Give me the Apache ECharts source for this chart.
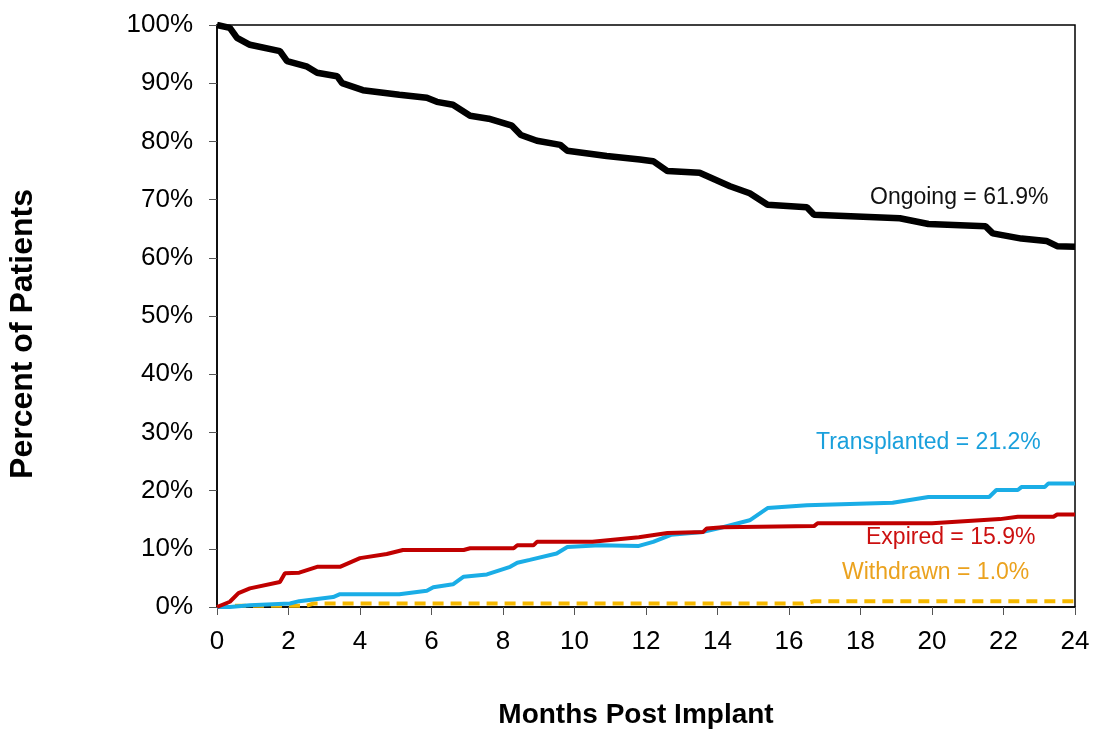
<!DOCTYPE html>
<html><head><meta charset="utf-8">
<script src="https://cdn.jsdelivr.net/npm/echarts@6/dist/echarts.min.js"></script>
<style>html,body{margin:0;padding:0;background:#fff}#c{width:1093px;height:729px}</style>
</head><body><div id="c"></div>
<script>
const xTicks = [0,2,4,6,8,10,12,14,16,18,20,22,24];
const ongoing = [[0,100],[0.36,99.5],[0.56,97.8],[0.92,96.6],[1.76,95.5],[1.96,93.8],[2.5,92.9],[2.8,91.8],[3.36,91.2],[3.5,90.0],[4.08,88.8],[5.1,88.0],[5.87,87.5],[6.15,86.8],[6.6,86.3],[7.08,84.4],[7.6,83.9],[8.25,82.7],[8.5,81.1],[8.95,80.1],[9.6,79.4],[9.8,78.4],[10.9,77.5],[11.83,76.9],[12.2,76.6],[12.6,74.9],[13.5,74.6],[14.35,72.3],[14.9,71.1],[15.4,69.1],[16.5,68.7],[16.7,67.4],[19.1,66.8],[19.9,65.8],[21.5,65.4],[21.7,64.2],[22.5,63.3],[23.2,62.9],[23.5,62.0],[24,61.9]];
const transplanted = [[0,0],[0.36,0],[0.92,0.3],[0.95,0.6],[2.04,0.6],[2.3,1.0],[3.25,1.7],[3.44,2.2],[5.1,2.2],[5.87,2.8],[6.05,3.4],[6.6,3.9],[6.9,5.2],[7.55,5.6],[8.2,6.9],[8.4,7.6],[8.75,8.1],[9.5,9.2],[9.8,10.3],[10.7,10.6],[11.8,10.5],[12.2,11.2],[12.7,12.4],[13.6,12.9],[14.15,13.7],[14.9,14.9],[15.4,17.0],[16.5,17.5],[18.9,17.9],[19.9,18.9],[21.6,18.9],[21.8,20.1],[22.4,20.1],[22.5,20.6],[23.15,20.6],[23.25,21.2],[24,21.2]];
const expired = [[0,0],[0.36,0.9],[0.6,2.4],[0.92,3.2],[1.76,4.3],[1.9,5.8],[2.3,5.9],[2.8,6.9],[3.44,6.9],[4.0,8.4],[4.75,9.1],[5.2,9.8],[6.9,9.8],[7.08,10.1],[8.3,10.1],[8.4,10.6],[8.85,10.6],[8.95,11.2],[10.5,11.2],[11.8,12.0],[12.6,12.7],[13.6,12.9],[13.7,13.5],[14.15,13.7],[16.7,13.9],[16.8,14.4],[20.0,14.4],[21.9,15.1],[22.4,15.5],[23.4,15.5],[23.5,15.9],[24,15.9]];
const withdrawn = [[0,0],[0.5,0.2],[2.5,0.2],[2.7,0.6],[16.4,0.6],[16.7,1.0],[24,1.0]];
const labels = {ongoing:'Ongoing = 61.9%', transplanted:'Transplanted = 21.2%', expired:'Expired = 15.9%', withdrawn:'Withdrawn = 1.0%'};

const chart = echarts.init(document.getElementById('c'));
const F = 'Liberation Sans, Arial, sans-serif';
chart.setOption({
  animation:false,
  grid:{left:217,right:18,top:25,bottom:122,containLabel:false,outerBoundsMode:'none',show:true,borderColor:'#000',borderWidth:1.5,backgroundColor:'transparent'},
  xAxis:{type:'value',min:0,max:24,interval:2,
    name:'Months Post Implant',nameLocation:'middle',nameGap:94,
    nameTextStyle:{fontFamily:F,fontWeight:'bold',fontSize:28,color:'#000',padding:[0,20,0,0]},
    axisLine:{lineStyle:{color:'#000',width:1.5}},
    axisTick:{show:true,length:8,lineStyle:{color:'#555'}},
    axisLabel:{fontFamily:F,fontSize:26,color:'#000',margin:22},
    splitLine:{show:false}},
  yAxis:{type:'value',min:0,max:100,interval:10,
    name:'Percent of Patients',nameLocation:'middle',nameGap:178,nameRotate:90,
    nameTextStyle:{fontFamily:F,fontWeight:'bold',fontSize:32,color:'#000',padding:[0,36,0,0]},
    axisLine:{show:true,lineStyle:{color:'#000',width:1.5}},
    axisTick:{show:true,length:8,lineStyle:{color:'#555'}},
    axisLabel:{fontFamily:F,fontSize:26,color:'#000',margin:24,formatter:'{value}%'},
    splitLine:{show:false}},
  series:[
    {type:'line',name:'Withdrawn',data:withdrawn,showSymbol:false,z:3,lineStyle:{color:'#F5B800',width:4,type:[11,7]}},
    {type:'line',name:'Transplanted',data:transplanted,showSymbol:false,z:4,lineStyle:{color:'#1AADE6',width:4}},
    {type:'line',name:'Expired',data:expired,showSymbol:false,z:5,lineStyle:{color:'#C00000',width:4}},
    {type:'line',name:'Ongoing',data:ongoing,showSymbol:false,z:6,lineStyle:{color:'#000',width:6.5}}
  ],
  graphic:[
    {type:'text',x:870,y:198,style:{text:labels.ongoing,font:'23px '+F,fill:'#111',verticalAlign:'middle'}},
    {type:'text',x:816,y:443,style:{text:labels.transplanted,font:'23px '+F,fill:'#1AA0DC',verticalAlign:'middle'}},
    {type:'text',x:866,y:538,style:{text:labels.expired,font:'23px '+F,fill:'#CC1010',verticalAlign:'middle'}},
    {type:'text',x:842,y:573,style:{text:labels.withdrawn,font:'23px '+F,fill:'#EBA21E',verticalAlign:'middle'}}
  ]
});
</script></body></html>
